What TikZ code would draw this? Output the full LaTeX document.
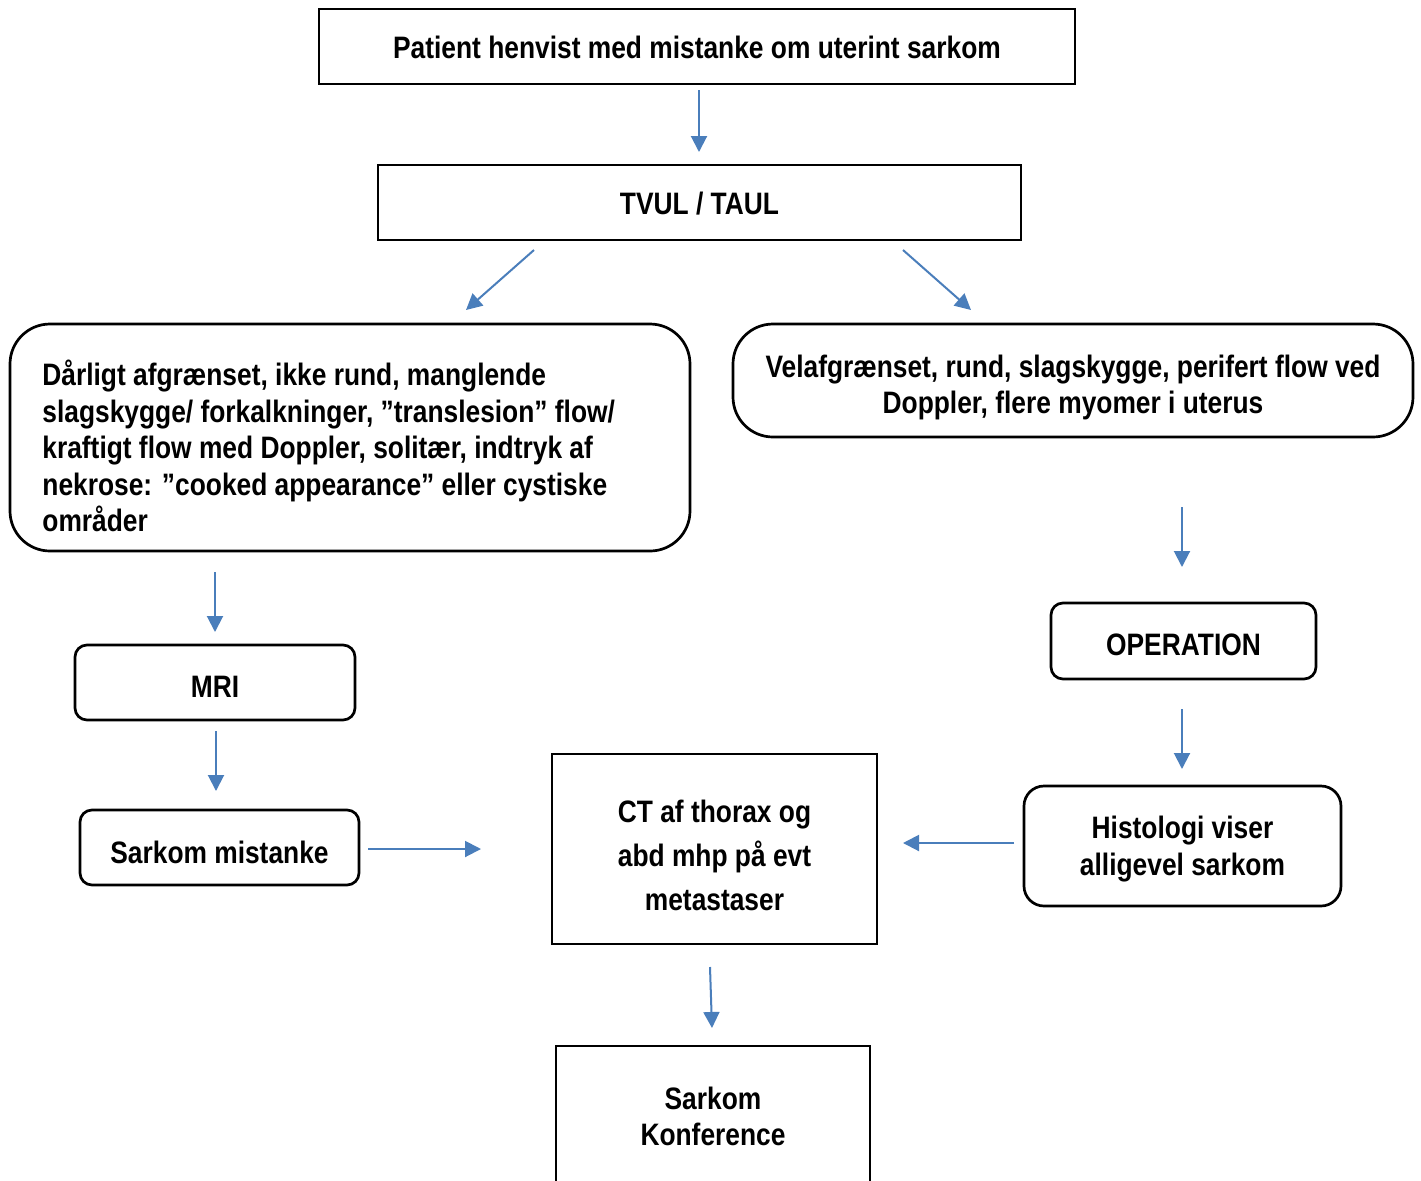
\documentclass[tikz,border=0pt]{standalone}
\usepackage{fontspec}
\setmainfont[FakeStretch=0.85]{Liberation Sans}
\usetikzlibrary{arrows.meta}
\definecolor{arrowblue}{RGB}{74,126,187}
\begin{document}
\begin{tikzpicture}[x=0.5pt,y=-0.5pt,
  txt/.style={inner sep=0pt, align=center, font=\fontsize{15.5}{18.25}\selectfont\bfseries},
  box/.style={draw, line width=1.35pt, inner sep=0pt},
  rbox/.style={box, rounded corners=6pt},
  bigrbox/.style={box, rounded corners=20pt},
  conn/.style={draw=arrowblue, line width=1pt, -{Triangle[length=8pt,width=8pt]}}]
\useasboundingbox (0,0) rectangle (1421,1180);
\clip (0,0) rectangle (1421,1180);
\fill[white] (0,0) rectangle (1421,1180);

% boxes
\node[box, minimum width=378pt, minimum height=37.5pt] (top) at (697,46.5) {};
\node[txt] (toptxt) at (697,47) {Patient henvist med mistanke om uterint sarkom};

\node[box, minimum width=321.5pt, minimum height=37.5pt] (tvul) at (699.5,202.5) {};
\node[txt] (tvultxt) at (699.5,204) {TVUL / TAUL};

\node[bigrbox, minimum width=340pt, minimum height=113.5pt] (left) at (350,437.5) {};
\node[txt, anchor=west, align=left] (lefttxt) at (42,446) {Dårligt afgrænset, ikke rund, manglende\\slagskygge/ forkalkninger, ”translesion” flow/\\kraftigt flow med Doppler, solitær, indtryk af\\nekrose: ”cooked appearance” eller cystiske\\områder};

\node[bigrbox, minimum width=340pt, minimum height=56.5pt] (right) at (1073,380.5) {};
\node[txt] (righttxt) at (1073,387.5) {Velafgrænset, rund, slagskygge, perifert flow ved\\Doppler, flere myomer i uterus};

\node[rbox, minimum width=140pt, minimum height=37.5pt] (mri) at (215,682.5) {};
\node[txt] (mritxt) at (215,687) {MRI};

\node[rbox, minimum width=139.5pt, minimum height=37.5pt] (mist) at (219.5,847.5) {};
\node[txt] (misttxt) at (219.5,852) {Sarkom mistanke};

\node[rbox, minimum width=132.5pt, minimum height=38pt] (oper) at (1183.5,641) {};
\node[txt] (opertxt) at (1183.5,645) {OPERATION};

\node[box, rounded corners=10pt, minimum width=158.5pt, minimum height=60pt] (hist) at (1182.5,846) {};
\node[txt] (histtxt) at (1182.5,849) {Histologi viser\\alligevel sarkom};

\node[box, minimum width=162.5pt, minimum height=95pt] (ct) at (714.5,849) {};
\node[txt, font=\fontsize{15.5}{22}\selectfont\bfseries] (cttxt) at (714.5,855) {CT af thorax og\\abd mhp på evt\\metastaser};

\node[box, minimum width=157pt, minimum height=72pt] (konf) at (713,1118) {};
\node[txt] (konftxt) at (713,1116.5) {Sarkom\\Konference};

% connector end points
\coordinate (a1s) at (699,90);   \coordinate (a1e) at (699,152);
\coordinate (a2s) at (534,250);  \coordinate (a2e) at (466,310);
\coordinate (a3s) at (903,250);  \coordinate (a3e) at (971,310);
\coordinate (a4s) at (1182,507); \coordinate (a4e) at (1182,567);
\coordinate (a5s) at (215,572);  \coordinate (a5e) at (215,632);
\coordinate (a6s) at (1182,709); \coordinate (a6e) at (1182,769);
\coordinate (a7s) at (216,731);  \coordinate (a7e) at (216,791);
\coordinate (a8s) at (368,849);  \coordinate (a8e) at (481,849);
\coordinate (a9s) at (1014,843); \coordinate (a9e) at (903,843);
\coordinate (a10s) at (710,967); \coordinate (a10e) at (712,1028);

\draw[conn] (a1s) -- (a1e);
\draw[conn] (a2s) -- (a2e);
\draw[conn] (a3s) -- (a3e);
\draw[conn] (a4s) -- (a4e);
\draw[conn] (a5s) -- (a5e);
\draw[conn] (a6s) -- (a6e);
\draw[conn] (a7s) -- (a7e);
\draw[conn] (a8s) -- (a8e);
\draw[conn] (a9s) -- (a9e);
\draw[conn] (a10s) -- (a10e);
\end{tikzpicture}
\end{document}
